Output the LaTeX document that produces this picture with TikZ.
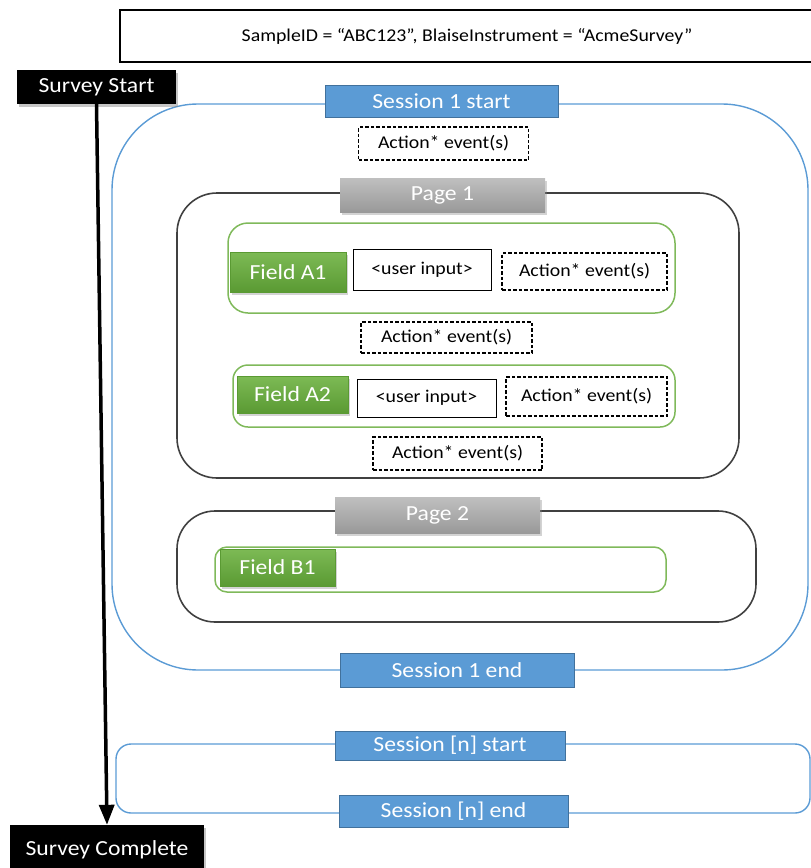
\documentclass[tikz,border=0pt]{standalone}
\usepackage{fontspec}
\setmainfont{Carlito}[FakeStretch=1.1]
\usetikzlibrary{shadows,arrows.meta}
\definecolor{sblue}{HTML}{5B9BD5}
\definecolor{sbluedk}{HTML}{41719C}
\definecolor{gbord}{HTML}{7FB95A}
\definecolor{gtop}{HTML}{7DBA55}
\definecolor{gbot}{HTML}{5A9A33}
\definecolor{pgline}{HTML}{404040}
\begin{document}
\begin{tikzpicture}[x=1pt,y=-1pt,
  big/.style={font=\fontsize{21.5}{25}\selectfont},
  small/.style={font=\fontsize{18}{21}\selectfont},
  sess/.style={big, draw=sbluedk, line width=1pt, fill=sblue, text=white, inner sep=0pt},
  blk/.style={big, fill=black, text=white, inner sep=0pt, drop shadow={opacity=0.45,shadow xshift=2pt,shadow yshift=-3pt}},
  pagelbl/.style={big, top color=gray!50, bottom color=gray!80, draw=none, text=white, inner sep=0pt, drop shadow={opacity=0.35,shadow xshift=1.5pt,shadow yshift=-3pt}},
  fieldlbl/.style={big, top color=gtop, bottom color=gbot, draw=gbot, text=white, inner sep=0pt, drop shadow={opacity=0.35,shadow xshift=2pt,shadow yshift=-3pt}},
  uinput/.style={small, draw=black, line width=0.9pt, fill=white, inner sep=0pt},
  actbox/.style={small, draw=black, line width=1.3pt, dash pattern=on 3.5pt off 2pt, fill=white, inner sep=0pt},
  sessframe/.style={draw=sblue, line width=1.4pt},
  pageframe/.style={draw=pgline, line width=1.6pt},
  fieldframe/.style={draw=gbord, line width=1.5pt}
]
\useasboundingbox (0,0) rectangle (811,868);
% top box
\node[draw=black, line width=1.2pt, minimum width=694, minimum height=52, inner sep=0pt, font=\fontsize{18}{21}\selectfont] (hdr) at (467,36) {SampleID = “ABC123”, BlaiseInstrument = “AcmeSurvey”};
% frames
\draw[sessframe, rounded corners=86] (112,104) rectangle (808,670);
\draw[sessframe, rounded corners=15] (116,744) rectangle (810,813);
\draw[pageframe, rounded corners=40] (177,193) rectangle (739,478);
\draw[pageframe, rounded corners=38] (177,511) rectangle (756,622);
\draw[fieldframe, rounded corners=20] (228,223) rectangle (675,313);
\draw[fieldframe, rounded corners=15] (233,365) rectangle (675,427);
\draw[fieldframe, rounded corners=12] (215,547) rectangle (666,592);
% survey start / complete
\node[blk, minimum width=159, minimum height=34] (ss) at (96.5,87) {Survey Start};
\node[blk, minimum width=194, minimum height=50] (sc) at (107,850) {Survey Complete};
\draw[line width=3.5pt, -{Triangle[width=15pt,length=20pt]}] (ss.south) -- (sc.north);
% sessions
\node[sess, minimum width=233, minimum height=32] (s1s) at (441.5,101) {Session 1 start};
\node[sess, minimum width=234, minimum height=34] (s1e) at (457,670) {Session 1 end};
\node[sess, minimum width=230, minimum height=29] (sns) at (450,745.5) {Session [n] start};
\node[sess, minimum width=229, minimum height=32] (sne) at (453.5,811) {Session [n] end};
% actions
\node[actbox, minimum width=170, minimum height=33] (a0) at (443.5,143.5) {Action* event(s)};
\node[pagelbl, minimum width=205, minimum height=34] (p1) at (442.5,195) {Page 1};
\node[fieldlbl, minimum width=116, minimum height=40] (fa1) at (288,272) {Field A1};
\node[uinput, minimum width=138, minimum height=41] (u1) at (422,269.5) {<user input>};
\node[actbox, minimum width=165, minimum height=37] (a1) at (584.5,271.5) {Action* event(s)};
\node[actbox, minimum width=171, minimum height=31] (a2) at (446.5,337.5) {Action* event(s)};
\node[fieldlbl, minimum width=111, minimum height=37] (fa2) at (292.5,394.5) {Field A2};
\node[uinput, minimum width=139, minimum height=38] (u2) at (426.5,398) {<user input>};
\node[actbox, minimum width=161, minimum height=39] (a3) at (586.5,396.5) {Action* event(s)};
\node[actbox, minimum width=169, minimum height=33] (a4) at (457.5,453.5) {Action* event(s)};
\node[pagelbl, minimum width=205, minimum height=36] (p2) at (437.5,515) {Page 2};
\node[fieldlbl, minimum width=115, minimum height=37] (fb1) at (277.5,567.5) {Field B1};
\end{tikzpicture}
\end{document}
